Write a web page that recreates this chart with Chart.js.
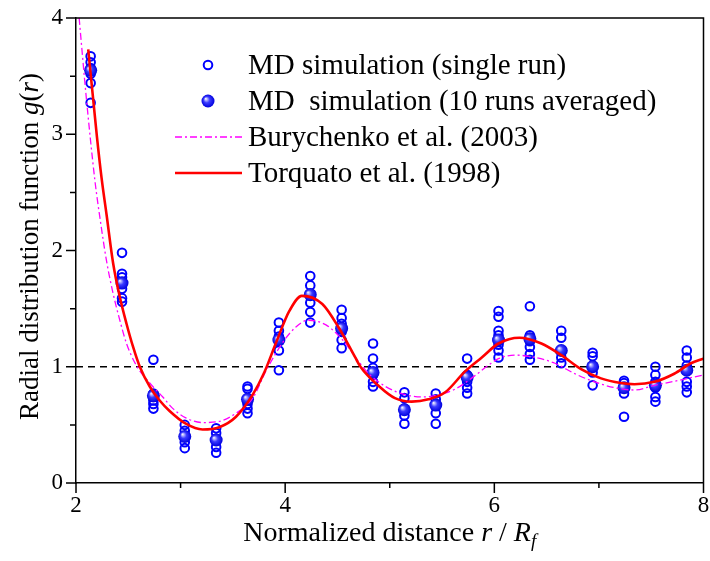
<!DOCTYPE html>
<html>
<head>
    <title>Radial distribution function</title>
    <script src="https://cdn.jsdelivr.net/npm/chart.js"></script>
    <style>
        body {
            margin: 0;
            background-color: #ffffff;
        }
        .chart-container {
            width: 710px;
            height: 561px;
        }
    </style>
</head>
<body>
    <div class="chart-container">
        <canvas id="rdfChart"></canvas>
    </div>

    <script>
        const FONT = "'Liberation Serif', 'Times New Roman', serif";

        // cluster positions r / Rf
        const clusterR = [2.14, 2.44, 2.74, 3.04, 3.34, 3.64, 3.94, 4.24, 4.54, 4.84,
                          5.14, 5.44, 5.74, 6.04, 6.34, 6.64, 6.94, 7.24, 7.54, 7.84];

        // MD single runs, one list per cluster
        const singleRuns = [
            [3.67, 3.62, 3.57, 3.52, 3.44, 3.27],
            [1.98, 1.80, 1.77, 1.73, 1.67, 1.59, 1.56],
            [1.06, 0.77, 0.74, 0.71, 0.68, 0.64],
            [0.50, 0.45, 0.40, 0.35, 0.30],
            [0.47, 0.43, 0.38, 0.31, 0.26],
            [0.83, 0.81, 0.71, 0.68, 0.64, 0.60],
            [1.38, 1.31, 1.26, 1.23, 1.14, 0.97],
            [1.78, 1.70, 1.63, 1.55, 1.47, 1.38],
            [1.49, 1.42, 1.37, 1.30, 1.23, 1.16],
            [1.20, 1.07, 0.99, 0.93, 0.87, 0.83],
            [0.78, 0.73, 0.64, 0.58, 0.51],
            [0.77, 0.72, 0.67, 0.60, 0.51],
            [1.07, 0.93, 0.87, 0.82, 0.77],
            [1.48, 1.43, 1.31, 1.27, 1.19, 1.14, 1.08],
            [1.52, 1.27, 1.22, 1.17, 1.11, 1.06],
            [1.31, 1.25, 1.14, 1.08, 1.03],
            [1.12, 1.09, 1.01, 0.95, 0.84],
            [0.88, 0.86, 0.82, 0.77, 0.57],
            [1.00, 0.93, 0.87, 0.82, 0.74, 0.70],
            [1.14, 1.08, 1.01, 0.87, 0.83, 0.78]
        ];

        // MD 10 runs averaged
        const averaged = [3.55, 1.72, 0.75, 0.40, 0.37, 0.72, 1.23, 1.62, 1.33, 0.95,
                          0.63, 0.67, 0.91, 1.23, 1.24, 1.14, 1.00, 0.82, 0.84, 0.97];

        // Burychenko et al. (2003)
        const burR = [2.03, 2.10, 2.181, 2.229, 2.292, 2.355, 2.419, 2.483, 2.578, 2.705, 2.83, 2.927,
                      3.05, 3.21, 3.37, 3.53, 3.69, 3.82, 3.97, 4.10, 4.22, 4.39, 4.55, 4.69, 4.80,
                      4.96, 5.15, 5.31, 5.47, 5.63, 5.78, 5.97, 6.04, 6.20, 6.39, 6.58, 6.77, 6.96,
                      7.15, 7.34, 7.53, 7.75, 8.00];
        const burG = [4.00, 3.30, 2.60, 2.28, 1.91, 1.63, 1.40, 1.20, 1.01, 0.86, 0.74, 0.64,
                      0.56, 0.52, 0.53, 0.60, 0.73, 0.97, 1.20, 1.34, 1.40, 1.36, 1.23, 1.06, 0.94,
                      0.83, 0.76, 0.74, 0.76, 0.81, 0.90, 1.03, 1.07, 1.10, 1.08, 1.03, 0.94, 0.87,
                      0.82, 0.80, 0.84, 0.88, 0.93];

        // Torquato et al. (1998)
        const torR = [2.117, 2.20, 2.245, 2.292, 2.355, 2.419, 2.483, 2.546, 2.61, 2.705, 2.80, 2.895,
                      3.05, 3.21, 3.37, 3.53, 3.69, 3.80, 3.91, 4.04, 4.16, 4.355, 4.51, 4.67, 4.72,
                      4.90, 5.05, 5.21, 5.37, 5.53, 5.72, 5.88, 6.04, 6.24, 6.45, 6.64, 6.83, 7.02,
                      7.21, 7.34, 7.53, 7.72, 7.88, 8.00];
        const torG = [3.73, 2.98, 2.62, 2.31, 1.89, 1.60, 1.37, 1.17, 1.00, 0.83, 0.71, 0.62,
                      0.51, 0.46, 0.48, 0.57, 0.76, 0.95, 1.20, 1.48, 1.61, 1.54, 1.34, 1.08, 1.00,
                      0.83, 0.73, 0.70, 0.72, 0.78, 0.96, 1.08, 1.20, 1.25, 1.20, 1.10, 0.98, 0.90,
                      0.86, 0.85, 0.87, 0.94, 1.03, 1.07];

        // reference line g = 1
        const refR = [2, 8];
        const refG = [1, 1];

        const legendLabels = [
            'MD simulation (single run)',
            'MD  simulation (10 runs averaged)',
            'Burychenko et al. (2003)',
            'Torquato et al. (1998)'
        ];

        const xMajor = [2, 4, 6, 8];

        const toPoints = (xs, ys) => xs.map((x, i) => ({ x: x, y: ys[i] }));
        const singlePoints = [];
        clusterR.forEach((r, i) => singleRuns[i].forEach(g => singlePoints.push({ x: r, y: g })));

        function sphereFill(ctx2d, px, py, rad) {
            const g = ctx2d.createRadialGradient(px - rad * 0.35, py - rad * 0.35, 0.3, px, py, rad);
            g.addColorStop(0, '#f0f0ff');
            g.addColorStop(0.45, '#3a3aff');
            g.addColorStop(1, '#0000dd');
            return g;
        }

        const framePlugin = {
            id: 'frame',
            afterDraw(chart) {
                const c = chart.ctx;
                const a = chart.chartArea;
                const xs = chart.scales.x, ys = chart.scales.y;
                c.save();
                c.strokeStyle = '#000';
                c.lineWidth = 1.5;
                c.beginPath();
                c.moveTo(a.left, a.top); c.lineTo(a.right, a.top); c.lineTo(a.right, a.bottom);
                // ticks
                for (let v = 2; v <= 8; v += 1) {
                    const px = xs.getPixelForValue(v);
                    const len = xMajor.includes(v) ? 10 : 5;
                    c.moveTo(px, a.bottom); c.lineTo(px, a.bottom + len);
                }
                for (let v = 0; v <= 4; v += 0.5) {
                    const py = ys.getPixelForValue(v);
                    const len = Number.isInteger(v) ? 10 : 6;
                    c.moveTo(a.left, py); c.lineTo(a.left - len, py);
                }
                c.stroke();

                // axis titles with italic parts
                const drawParts = (parts, cx, cy) => {
                    let w = 0;
                    parts.forEach(p => { c.font = p.font; w += c.measureText(p.t).width; });
                    let x = cx - w / 2;
                    parts.forEach(p => {
                        c.font = p.font;
                        c.fillText(p.t, x, cy + (p.dy || 0));
                        x += c.measureText(p.t).width;
                    });
                };
                c.fillStyle = '#000';
                c.textBaseline = 'alphabetic';
                c.textAlign = 'left';
                const n = '28px ' + FONT, it = 'italic 28px ' + FONT;
                drawParts([
                    { t: 'Normalized distance ', font: n },
                    { t: 'r', font: it },
                    { t: ' / ', font: n },
                    { t: 'R', font: it },
                    { t: 'f', font: 'italic 19px ' + FONT, dy: 6 }
                ], (a.left + a.right) / 2, 541);

                c.save();
                c.translate(38, (a.top + a.bottom) / 2 - 4);
                c.rotate(-Math.PI / 2);
                const n2 = '27px ' + FONT, it2 = 'italic 27px ' + FONT;
                drawParts([
                    { t: 'Radial distribution function ', font: n2 },
                    { t: 'g', font: it2 },
                    { t: '(', font: n2 },
                    { t: 'r', font: it2 },
                    { t: ')', font: n2 }
                ], 0, 0);
                c.restore();
                c.restore();
            },
            afterDatasetsDraw(chart) {
                const c = chart.ctx;
                const rows = [65, 101, 137, 173];
                const mx = 208, lx0 = 175, lx1 = 242, tx = 248;
                c.save();
                // open circle
                c.strokeStyle = '#0000ff';
                c.lineWidth = 2;
                c.beginPath(); c.arc(mx, rows[0], 4.3, 0, Math.PI * 2); c.stroke();
                // filled sphere
                c.fillStyle = sphereFill(c, mx, rows[1], 6.5);
                c.beginPath(); c.arc(mx, rows[1], 6.5, 0, Math.PI * 2); c.fill();
                // dash-dot
                c.strokeStyle = '#ff00ff';
                c.lineWidth = 1.3;
                c.setLineDash([7, 3, 2, 3]);
                c.beginPath(); c.moveTo(lx0, rows[2]); c.lineTo(lx1, rows[2]); c.stroke();
                c.setLineDash([]);
                c.strokeStyle = '#ff0000';
                c.lineWidth = 2.6;
                c.beginPath(); c.moveTo(lx0, rows[3]); c.lineTo(lx1, rows[3]); c.stroke();
                c.fillStyle = '#000';
                c.font = '29px ' + FONT;
                c.textBaseline = 'middle';
                c.textAlign = 'left';
                legendLabels.forEach((t, i) => c.fillText(t, tx, rows[i] + 1));
                c.restore();
            }
        };

        const ctx = document.getElementById('rdfChart').getContext('2d');
        new Chart(ctx, {
            type: 'scatter',
            data: {
                datasets: [
                    {
                        label: legendLabels[3],
                        data: toPoints(torR, torG),
                        showLine: true,
                        borderColor: '#ff0000',
                        borderWidth: 2.6,
                        pointRadius: 0,
                        cubicInterpolationMode: 'monotone',
                        order: 1
                    },
                    {
                        label: legendLabels[2],
                        data: toPoints(burR, burG),
                        showLine: true,
                        borderColor: '#ff00ff',
                        borderWidth: 1.3,
                        borderDash: [7, 3, 2, 3],
                        pointRadius: 0,
                        cubicInterpolationMode: 'monotone',
                        order: 2
                    },
                    {
                        label: legendLabels[1],
                        data: toPoints(clusterR, averaged),
                        pointRadius: 6.5,
                        borderWidth: 0,
                        backgroundColor: (c) => {
                            if (c.type !== 'data' || !c.raw) return '#0000ff';
                            const ch = c.chart;
                            const px = ch.scales.x.getPixelForValue(c.raw.x);
                            const py = ch.scales.y.getPixelForValue(c.raw.y);
                            if (!Number.isFinite(px) || !Number.isFinite(py)) return '#0000ff';
                            return sphereFill(ch.ctx, px, py, 6.5);
                        },
                        order: 3
                    },
                    {
                        label: legendLabels[0],
                        data: singlePoints,
                        pointRadius: 4.3,
                        borderWidth: 2,
                        borderColor: '#0000ff',
                        backgroundColor: 'rgba(0,0,0,0)',
                        order: 4
                    },
                    {
                        label: 'g = 1',
                        data: toPoints(refR, refG),
                        showLine: true,
                        borderColor: '#000000',
                        borderWidth: 1.3,
                        borderDash: [7, 5],
                        pointRadius: 0,
                        order: 5
                    }
                ]
            },
            options: {
                responsive: true,
                maintainAspectRatio: false,
                animation: false,
                layout: {
                    padding: { top: 18, right: 4, left: 0, bottom: 0 }
                },
                plugins: {
                    legend: { display: false },
                    tooltip: { enabled: false }
                },
                scales: {
                    x: {
                        type: 'linear',
                        min: 2,
                        max: 8,
                        grid: { display: false, drawTicks: false },
                        border: { display: true, color: '#000', width: 1.5 },
                        ticks: {
                            stepSize: 1,
                            autoSkip: false,
                            maxRotation: 0,
                            padding: 9,
                            color: '#000',
                            font: { family: FONT, size: 23 },
                            callback: (v) => xMajor.includes(v) ? String(v) : ''
                        },
                        afterFit: (s) => { s.height = 78; s.paddingLeft = 0; s.paddingRight = 0; }
                    },
                    y: {
                        min: 0,
                        max: 4,
                        grid: { display: false, drawTicks: false },
                        border: { display: true, color: '#000', width: 1.5 },
                        ticks: {
                            stepSize: 0.5,
                            autoSkip: false,
                            padding: 13,
                            color: '#000',
                            font: { family: FONT, size: 23 },
                            callback: (v) => Number.isInteger(v) ? String(v) : ''
                        },
                        afterFit: (s) => { s.width = 76; s.paddingTop = 0; s.paddingBottom = 0; }
                    }
                }
            },
            plugins: [framePlugin]
        });
    </script>
</body>
</html>
